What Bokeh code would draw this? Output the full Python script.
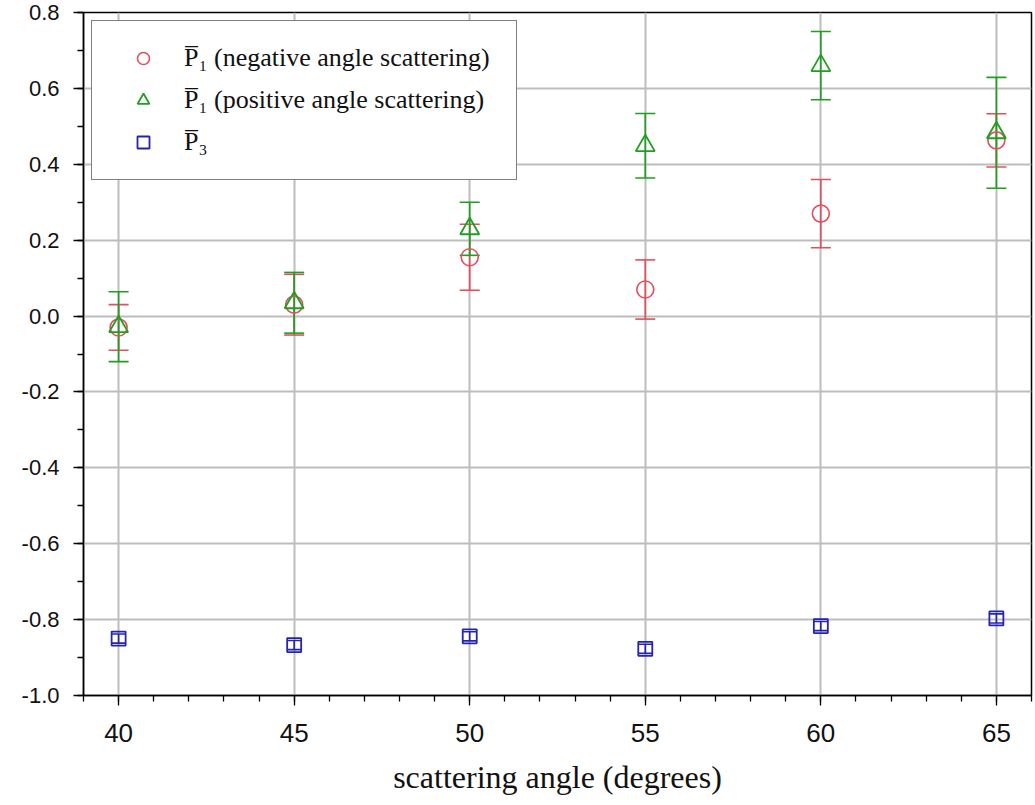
from bokeh.plotting import figure
from bokeh.models import (ColumnDataSource, Whisker, TeeHead, Legend, LegendItem,
                          SingleIntervalTicker, NumeralTickFormatter, Range1d)
from bokeh.embed import file_html
from bokeh.resources import INLINE

angles = [40, 45, 50, 55, 60, 65]

p1_neg = [-0.030, 0.030, 0.155, 0.070, 0.270, 0.463]
p1_neg_err = [0.060, 0.080, 0.087, 0.078, 0.090, 0.070]

p1_pos = [-0.028, 0.035, 0.230, 0.449, 0.660, 0.483]
p1_pos_err = [0.092, 0.080, 0.070, 0.085, 0.090, 0.146]

p3 = [-0.850, -0.867, -0.844, -0.877, -0.817, -0.797]
p3_err = [0.012, 0.012, 0.012, 0.012, 0.012, 0.012]

labels = ["P\u0305\u2081 (negative angle scattering)",
          "P\u0305\u2081 (positive angle scattering)",
          "P\u0305\u2083"]

RED = "#e0505f"
GREEN = "#1f9f1f"
BLUE = "#2424b0"

p = figure(frame_width=948, frame_height=683, output_backend="svg",
           toolbar_location=None, x_range=Range1d(39, 66), y_range=Range1d(-1.0, 0.8),
           min_border_left=83, min_border_top=12, min_border_right=4, min_border_bottom=10)

def mk(vals, errs):
    return ColumnDataSource(dict(x=angles, y=vals,
                                 lo=[v - e for v, e in zip(vals, errs)],
                                 hi=[v + e for v, e in zip(vals, errs)]))

s_neg = mk(p1_neg, p1_neg_err)
s_pos = mk(p1_pos, p1_pos_err)
s_p3 = mk(p3, p3_err)

for src, col, cap in [(s_neg, RED, 20), (s_pos, GREEN, 20), (s_p3, BLUE, 14)]:
    w = Whisker(source=src, base="x", lower="lo", upper="hi", line_color=col, line_width=1.6,
                upper_head=TeeHead(size=cap, line_color=col, line_width=1.6),
                lower_head=TeeHead(size=cap, line_color=col, line_width=1.6))
    p.add_layout(w)

r_neg = p.scatter("x", "y", source=s_neg, marker="circle", size=17, fill_color=None,
                  line_color=RED, line_width=1.6)
r_pos = p.scatter("x", "y", source=s_pos, marker="triangle", size=19, fill_color=None,
                  line_color=GREEN, line_width=1.8)
r_p3 = p.scatter("x", "y", source=s_p3, marker="square", size=14, fill_color=None,
                 line_color=BLUE, line_width=1.8)

legend = Legend(items=[LegendItem(label=labels[0], renderers=[r_neg]),
                       LegendItem(label=labels[1], renderers=[r_pos]),
                       LegendItem(label=labels[2], renderers=[r_p3])],
                location="top_left", margin=8, padding=22, spacing=12,
                label_height=30, glyph_width=58, glyph_height=30, label_standoff=12,
                label_width=310,
                label_text_font="Liberation Serif", label_text_font_size="26px",
                label_text_color="#111111",
                border_line_color="black", border_line_width=1.5,
                background_fill_alpha=1.0)
p.add_layout(legend)

p.xaxis.ticker = SingleIntervalTicker(interval=5, num_minor_ticks=5)
p.yaxis.ticker = SingleIntervalTicker(interval=0.2, num_minor_ticks=2)
p.yaxis.formatter = NumeralTickFormatter(format="0.0")

for ax in (p.xaxis, p.yaxis):
    ax.axis_line_color = "black"
    ax.axis_line_width = 1.5
    ax.major_tick_line_color = "black"
    ax.minor_tick_line_color = "black"
    ax.major_tick_line_width = 1.3
    ax.minor_tick_line_width = 1.3
    ax.major_tick_in = 0
    ax.major_tick_out = 10
    ax.minor_tick_in = 0
    ax.minor_tick_out = 6
    ax.major_label_text_font = "Liberation Sans"
    ax.major_label_text_color = "#111111"

p.xaxis.major_label_text_font_size = "26px"
p.yaxis.major_label_text_font_size = "22px"
p.xaxis.major_label_standoff = 18
p.yaxis.major_label_standoff = 14
p.xaxis.axis_label = "scattering angle (degrees)"
p.xaxis.axis_label_text_font = "Liberation Serif"
p.xaxis.axis_label_text_font_size = "32px"
p.xaxis.axis_label_text_font_style = "normal"
p.xaxis.axis_label_text_color = "#111111"
p.xaxis.axis_label_standoff = 14

p.xgrid.grid_line_color = "#bdbdbd"
p.ygrid.grid_line_color = "#bdbdbd"
p.xgrid.grid_line_width = 2
p.ygrid.grid_line_width = 2

p.outline_line_color = "black"
p.outline_line_width = 1.5
p.outline_line_alpha = 1.0

open("out.html", "w").write(file_html(p, INLINE))
